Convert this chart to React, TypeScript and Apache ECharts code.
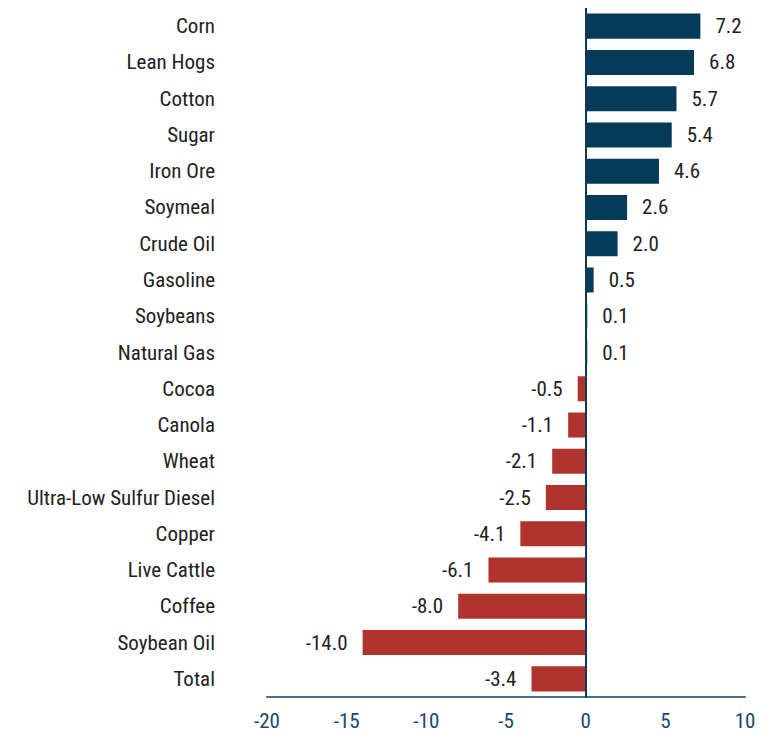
import React, { useEffect, useRef } from "react";
import * as echarts from "echarts";

const categories = [
  "Corn", "Lean Hogs", "Cotton", "Sugar", "Iron Ore", "Soymeal", "Crude Oil",
  "Gasoline", "Soybeans", "Natural Gas", "Cocoa", "Canola", "Wheat",
  "Ultra-Low Sulfur Diesel", "Copper", "Live Cattle", "Coffee", "Soybean Oil", "Total",
];
const values = [7.2, 6.8, 5.7, 5.4, 4.6, 2.6, 2.0, 0.5, 0.1, 0.1, -0.5, -1.1, -2.1, -2.5, -4.1, -6.1, -8.0, -14.0, -3.4];
const xTicks = { min: -20, max: 10, interval: 5 };

const POS = "#053a58";
const NEG = "#b0332e";
const FONT = "'Roboto Condensed', 'Liberation Sans Narrow', 'DejaVu Sans Condensed', Roboto, sans-serif";

export default function App() {
  const ref = useRef<HTMLDivElement>(null);
  useEffect(() => {
    if (!ref.current) return;
    const chart = echarts.init(ref.current, undefined, { renderer: "svg" });
    chart.setOption({
      animation: false,
      textStyle: { fontFamily: FONT },
      grid: { left: 259, right: 32, top: -2, bottom: 37, containLabel: false },
      xAxis: {
        type: "value",
        min: xTicks.min,
        max: xTicks.max,
        interval: xTicks.interval,
        splitLine: { show: false },
        axisTick: { show: false },
        axisLine: { show: true, onZero: false, lineStyle: { color: "#4e6f84", width: 2 } },
        axisLabel: { color: "#1b4868", fontSize: 21, margin: 13, fontFamily: FONT },
      },
      yAxis: {
        type: "category",
        data: categories,
        inverse: true,
        axisTick: { show: false },
        axisLine: { show: true, onZero: true, lineStyle: { color: "#0b3a58", width: 2 } },
        axisLabel: { color: "#222", fontSize: 21, margin: 52, fontFamily: FONT },
        z: 10,
      },
      series: [
        {
          type: "bar",
          barCategoryGap: "31%",
          data: values.map((v) => ({
            value: v,
            itemStyle: { color: v >= 0 ? POS : NEG },
            label: { position: v >= 0 ? "right" : "left" },
          })),
          label: {
            show: true,
            distance: 15,
            color: "#222",
            fontSize: 21,
            fontFamily: FONT,
            formatter: (p: any) => Number(p.value).toFixed(1),
          },
        },
      ],
    });
    return () => chart.dispose();
  }, []);
  return <div ref={ref} style={{ width: 769, height: 726 }} />;
}
